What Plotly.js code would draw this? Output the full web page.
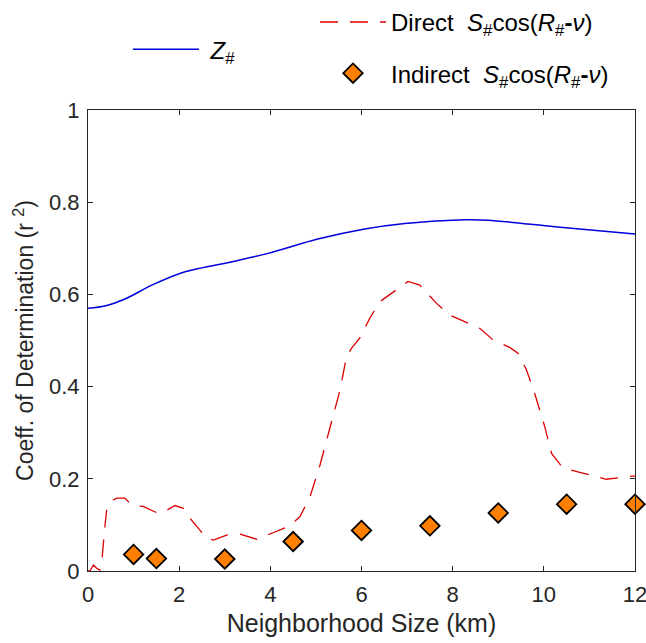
<!DOCTYPE html>
<html>
<head>
<meta charset="utf-8">
<script src="https://cdn.plot.ly/plotly-3.0.1.min.js"></script>
<style>html,body{margin:0;padding:0;background:#fff;}#chart{width:646px;height:643px;}</style>
</head>
<body>
<div id="chart"></div>
<script>
// Z# (blue solid)
const zX = [0, 0.37, 0.81, 1.4, 2.13, 3.22, 3.95, 5.04, 6.07, 6.95, 8.27, 8.78, 10.24, 12];
const zY = [0.570, 0.575, 0.590, 0.620, 0.649, 0.672, 0.689, 0.720, 0.742, 0.754, 0.762, 0.761, 0.747, 0.731];

// Direct S#cos(R#-nu) (red dashed)
const directX = [0, 0.04, 0.12, 0.19, 0.26, 0.3, 0.37, 0.41, 0.48, 0.55, 0.63, 0.81, 0.96, 1.21, 1.54, 1.73, 1.91, 2.09, 2.24, 2.42, 2.6, 2.75, 3.04, 3.33, 3.7, 4.06, 4.43, 4.65, 4.87, 5.09, 5.31, 5.53, 5.67, 5.78, 5.96, 6.18, 6.4, 6.7, 7.02, 7.28, 7.64, 7.94, 8.23, 8.6, 8.89, 9.25, 9.44, 9.62, 9.8, 10.02, 10.17, 10.42, 10.79, 11.37, 11.96, 12];
const directY = [0.0, 0.0, 0.013, 0.006, 0.002, 0.017, 0.096, 0.132, 0.150, 0.154, 0.158, 0.158, 0.143, 0.140, 0.125, 0.132, 0.142, 0.136, 0.114, 0.093, 0.071, 0.067, 0.078, 0.080, 0.069, 0.083, 0.098, 0.118, 0.161, 0.230, 0.313, 0.393, 0.465, 0.483, 0.505, 0.548, 0.584, 0.606, 0.628, 0.620, 0.581, 0.555, 0.543, 0.526, 0.501, 0.485, 0.472, 0.436, 0.385, 0.313, 0.255, 0.223, 0.214, 0.199, 0.206, 0.206];

// Indirect S#cos(R#-nu) (orange diamonds)
const indirectX = [1, 1.5, 3, 4.5, 6, 7.5, 9, 10.5, 12];
const indirectY = [0.036, 0.027, 0.026, 0.064, 0.088, 0.098, 0.126, 0.145, 0.145];

const xTicks = [0, 2, 4, 6, 8, 10, 12];
const yTicks = [0, 0.2, 0.4, 0.6, 0.8, 1];

const FONT = '"Liberation Sans", Arial, Helvetica, sans-serif';
const INK = '#262626';
const NB = '\u00a0';

const traces = [
  {x: zX, y: zY, type: 'scatter', mode: 'lines',
   line: {color: '#0000dd', width: 1.5, shape: 'spline', smoothing: 0.8},
   name: NB + '<i>Z</i><sub>#</sub>', legend: 'legend'},
  {x: directX, y: directY, type: 'scatter', mode: 'lines',
   line: {color: '#dd0000', width: 1.3, dash: '18px,12px'},
   name: 'Direct' + NB + NB + '<i>S</i><sub>#</sub>cos(<i>R</i><sub>#</sub><b>-</b><i>ν</i>)', legend: 'legend2'},
  {x: indirectX, y: indirectY, type: 'scatter', mode: 'markers', cliponaxis: false,
   marker: {symbol: 'diamond', size: 15, color: '#ff8000', line: {color: '#000', width: 1.8}},
   name: 'Indirect' + NB + NB + '<i>S</i><sub>#</sub>cos(<i>R</i><sub>#</sub><b>-</b><i>ν</i>)', legend: 'legend3'}
];

const legBase = {font: {family: FONT, size: 24, color: '#000'}, bgcolor: 'rgba(0,0,0,0)', borderwidth: 0,
  xanchor: 'left', yanchor: 'middle', xref: 'paper', yref: 'paper', itemwidth: 66};

const layout = {
  width: 646, height: 643,
  margin: {l: 88, r: 11, t: 110, b: 72, autoexpand: false},
  paper_bgcolor: '#fff', plot_bgcolor: '#fff',
  font: {family: FONT, size: 22, color: INK},
  showlegend: true,
  legend: Object.assign({}, legBase, {x: 0.073, y: 1.131}),
  legend2: Object.assign({}, legBase, {x: 0.415, y: 1.190}),
  legend3: Object.assign({}, legBase, {x: 0.415, y: 1.079}),
  xaxis: {
    range: [0, 12], tickvals: xTicks, ticktext: xTicks.map(String),
    showline: true, mirror: 'ticks', linecolor: INK, linewidth: 1,
    ticks: 'inside', ticklen: 5, tickcolor: INK, showgrid: false, zeroline: false,
    ticklabeloverflow: 'allow', ticklabelstandoff: 4,
    tickfont: {family: FONT, size: 22, color: INK},
    title: {text: 'Neighborhood Size (km)', font: {family: FONT, size: 25, color: INK}, standoff: 8}
  },
  yaxis: {
    range: [0, 1], tickvals: yTicks, ticktext: yTicks.map(String),
    showline: true, mirror: 'ticks', linecolor: INK, linewidth: 1,
    ticks: 'inside', ticklen: 5, tickcolor: INK, showgrid: false, zeroline: false,
    ticklabeloverflow: 'allow', ticklabelstandoff: 3,
    tickfont: {family: FONT, size: 22, color: INK},
    title: {text: 'Coeff. of Determination (r <sup>2</sup>)', font: {family: FONT, size: 23, color: INK}, standoff: 8}
  }
};

Plotly.newPlot('chart', traces, layout, {displayModeBar: false, staticPlot: true});
</script>
</body>
</html>
